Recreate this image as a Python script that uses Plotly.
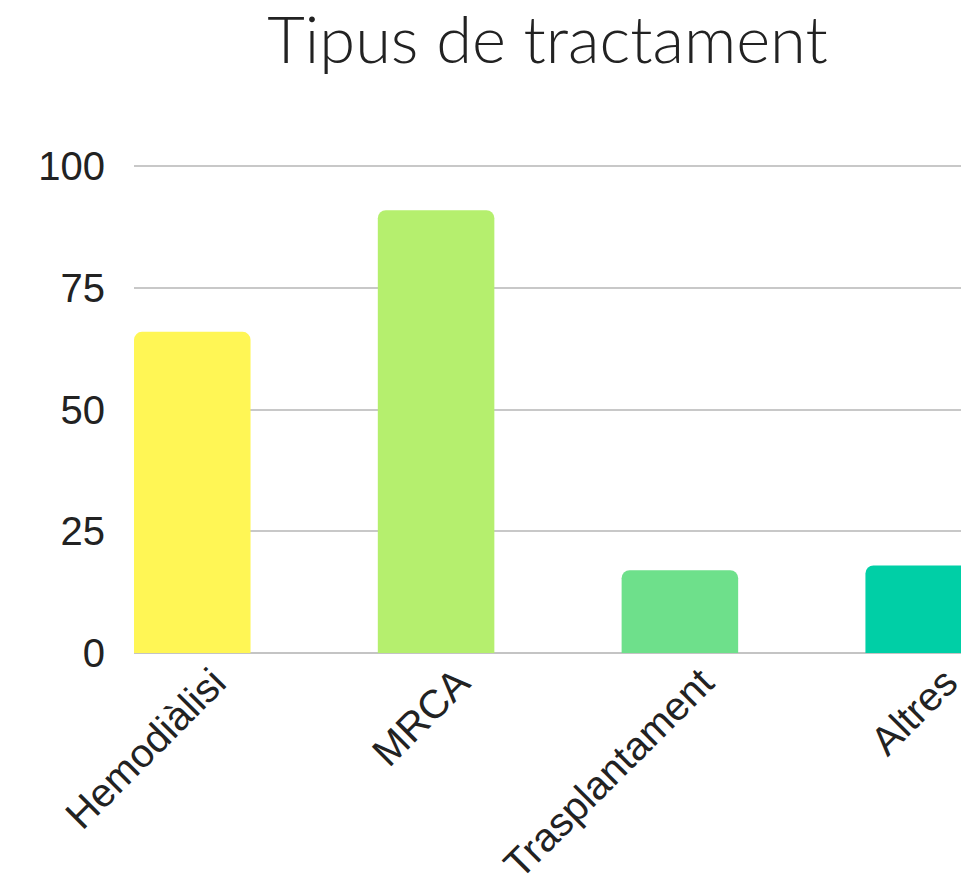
import plotly.graph_objects as go

categories = ["Hemodiàlisi", "MRCA", "Trasplantament", "Altres"]
values = [66, 91, 17, 18]
colors = ["#fff655", "#b5ef6e", "#6ee08b", "#00cfa6"]
y_ticks = [0, 25, 50, 75, 100]
title_text = "Tipus de tractament"

fig = go.Figure(
    go.Bar(
        x=categories,
        y=values,
        marker=dict(color=colors, cornerradius=8, line=dict(width=0)),
        width=0.478,
    )
)

W, H = 961, 878

fig.update_layout(
    width=W,
    height=H,
    paper_bgcolor="white",
    plot_bgcolor="white",
    showlegend=False,
    margin=dict(l=134, r=0, t=164, b=225, autoexpand=False),
    title=dict(
        text=title_text,
        font=dict(family="Lato", size=65, color="#222222", weight=300),
        x=0.5,
        xref="paper",
        xanchor="center",
        y=1 - 63 / H,
        yref="container",
        yanchor="bottom",
        automargin=False,
    ),
    font=dict(family="Liberation Sans, Arial", color="#222222"),
)

fig.update_xaxes(
    type="category",
    range=[-0.239, 3.153],
    tickangle=-45,
    tickfont=dict(size=40, color="#222222"),
    showgrid=False,
    showline=False,
    ticks="",
    ticklabelshift=22,
    ticklabelstandoff=-3,
    automargin=False,
)

fig.update_yaxes(
    range=[0, 100.5],
    tickvals=y_ticks,
    tickfont=dict(size=40, color="#222222"),
    showgrid=True,
    gridcolor="#c8c8c8",
    gridwidth=1.5,
    zeroline=True,
    zerolinecolor="#c4c4c4",
    zerolinewidth=2,
    showline=False,
    ticks="",
    ticklabelstandoff=28,
    automargin=False,
)

fig.write_html(
    "out.html",
    config={"displayModeBar": False},
    post_script="document.body.style.margin='0';document.body.style.overflow='hidden';",
)
